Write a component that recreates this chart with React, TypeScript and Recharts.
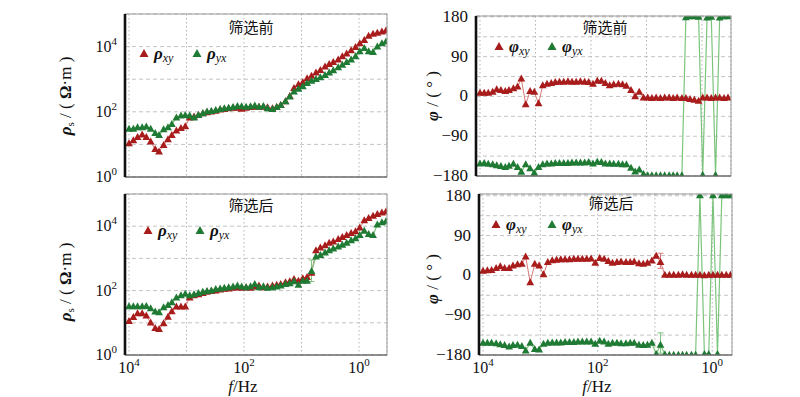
import React from 'react';
import { LineChart, Line, XAxis, YAxis, CartesianGrid, ErrorBar } from 'recharts';

// ---------- data ----------
const freqHz = [10000, 8400, 7100, 5900, 5000, 4200, 3500, 3000, 2500, 2100, 1800, 1500, 1250, 1050, 880, 740, 620, 520, 440, 370, 310, 260, 220, 185, 155, 130, 110, 92, 77, 65, 55, 46, 39, 32, 27, 23, 19, 16, 13.5, 11.3, 9.5, 8, 6.7, 5.6, 4.7, 3.9, 3.3, 2.8, 2.3, 1.95, 1.64, 1.37, 1.15, 0.97, 0.81, 0.68, 0.57, 0.48, 0.4, 0.34];

const rhoXyBefore = [10.7, 13.2, 16.6, 20, 16.6, 12, 7.1, 6.0, 9.5, 14.1, 19, 26.3, 31.6, 35.5, 66, 71, 79, 89, 95, 100, 107, 115, 120, 126, 132, 132, 123, 132, 138, 141, 141, 141, 135, 126, 138, 158, 209, 302, 525, 692, 794, 1047, 1259, 1585, 1905, 2399, 2884, 3311, 3981, 5012, 6026, 7586, 9550, 12590, 15850, 21380, 24550, 26300, 28840, 30900];
const rhoYxBefore = [30, 30, 33, 33, 35, 30, 22, 19, 29, 33, 42, 66, 76, 79, 76, 66, 79, 89, 100, 105, 112, 120, 126, 132, 138, 148, 145, 141, 145, 155, 141, 148, 126, 120, 138, 158, 209, 288, 417, 501, 603, 759, 891, 1000, 1122, 1318, 1585, 1862, 2291, 2754, 3311, 3981, 5012, 7079, 8913, 7079, 6761, 10000, 12590, 14130];
const rhoXyAfter = [11.2, 14.8, 19.5, 19.5, 16.6, 10, 6.8, 6.3, 9.5, 15.1, 22.4, 31.6, 31.6, 31.6, 60, 71, 76, 83, 91, 95, 100, 107, 112, 115, 120, 126, 120, 126, 120, 132, 141, 126, 132, 141, 151, 158, 178, 191, 224, 200, 240, 263, 355, 1778, 2138, 2512, 3020, 3311, 3981, 4571, 5248, 6026, 6918, 8913, 15140, 17780, 20890, 23440, 26300, 28180];
const rhoYxAfter = [32, 32, 32, 32, 33, 28, 22, 21, 30, 35, 43, 60, 71, 79, 71, 76, 83, 91, 95, 100, 110, 115, 120, 126, 132, 141, 132, 126, 135, 158, 126, 135, 120, 126, 132, 141, 158, 166, 191, 151, 200, 200, 398, 1122, 1259, 1514, 1778, 1995, 2291, 2630, 3020, 3631, 4169, 5248, 7079, 5623, 5248, 11220, 13180, 14130];

const phiXyBefore = [8, 8, 8, 10, 16, 14, 12, 14, 18, 22, 40, -18, 12, 10, -16, 25, 28, 30, 32, 33, 33, 34, 33, 33, 34, 33, 32, 28, 35, 35, 30, 25, 27, 28, 27, 24, 14, 0, 10, -3, -3, -4, -3, -4, -3, -3, -4, -3, -4, -4, -6, -8, -10, -3, -3, -4, -3, -3, -4, -3];
const phiYxBefore = [-152, -151, -153, -154, -156, -158, -160, -157, -153, -160, -171, -154, -163, -173, -160, -154, -152, -152, -151, -151, -151, -151, -150, -150, -150, -150, -149, -152, -148, -149, -152, -152, -153, -153, -154, -154, -162, -170, -166, -176, -179, -179, -179, -179, -179, -179, -179, -179, -179, 179, 181, 181, 180, -178, 178, 180, -178, 178, 181, 181];
const phiXyAfter = [10, 11, 12, 16, 20, 16, 16, 22, 25, 26, 42, -16, 26, 22, 2, 30, 34, 35, 36, 36, 36, 37, 37, 37, 37, 38, 28, 39, 37, 32, 28, 30, 31, 30, 30, 31, 27, 26, 28, 33, 44, 30, 1, 1, 1, 1, 2, 1, 1, 1, 1, 0, 1, 1, 1, 1, 1, 1, 1, 1];
const phiYxAfter = [-153, -153, -153, -154, -156, -158, -161, -158, -157, -160, -170, -153, -167, -168, -155, -153, -152, -152, -152, -151, -151, -151, -150, -150, -150, -150, -155, -148, -150, -155, -153, -153, -154, -154, -153, -153, -157, -158, -157, -153, -178, -157, -179, -180, -180, -180, -180, -180, -180, -180, 181, -178, -178, 181, -178, 181, 181, 181, 181, 181];

// error bars (sample index, [lower, upper])
const errIndexRho = [42];
const rhoYxAfterErr = [[207, 493]];
const errIndexPhi = [41];
const phiXyAfterErr = [[14, 20]];
const phiYxAfterErr = [[19, 27]];

const rhoTicks = [1, 10, 100, 1000, 10000];
const phiTicks = [-180, -135, -90, -45, 0, 45, 90, 135, 180];
const freqTicks = [10000, 1000, 100, 10, 1];

// ---------- styling ----------
const SERIF = '"Liberation Serif", "DejaVu Serif", serif';
const CJK = '"Noto Sans CJK SC", "Noto Sans", sans-serif';
const RED = '#a81c1c';
const RED_LINE = '#d97a7a';
const GREEN = '#1f7a34';
const GREEN_LINE = '#7cc47c';

function buildRows(a: number[], b: number[], idx: number[], errA?: number[][], errB?: number[][]) {
  return freqHz.map((f, i) => {
    const k = idx.indexOf(i);
    return {
      f,
      a: a[i],
      b: b[i],
      ea: k >= 0 && errA ? errA[k] : undefined,
      eb: k >= 0 && errB ? errB[k] : undefined,
    };
  });
}

const makeTri = (fill: string) => (p: any) => {
  const { cx, cy, index } = p;
  if (cx == null || cy == null || isNaN(cx) || isNaN(cy)) return <g key={`t${index}`} />;
  return (
    <path
      key={`t${index}`}
      d={`M${cx},${cy - 4.2}L${cx + 3.9},${cy + 2.8}L${cx - 3.9},${cy + 2.8}Z`}
      fill={fill}
    />
  );
};

const makeXTick = (show: boolean) => (p: any) => {
  const { x, y, payload } = p;
  const e = Math.round(Math.log10(payload.value));
  if (!show || e % 2 !== 0) return <g />;
  return (
    <text x={x} y={y} dy={10} textAnchor="middle" fontFamily={SERIF} fontSize={16} fill="#111">
      <tspan>10</tspan>
      <tspan dy={-7} fontSize={11}>{e}</tspan>
    </text>
  );
};

const RhoYTick = (p: any) => {
  const { x, y, payload } = p;
  const e = Math.round(Math.log10(payload.value));
  if (e % 2 !== 0) return <g />;
  return (
    <text x={x} y={y} dy={5} textAnchor="end" fontFamily={SERIF} fontSize={16} fill="#111">
      <tspan>10</tspan>
      <tspan dy={-7} fontSize={11}>{e}</tspan>
    </text>
  );
};

const PhiYTick = (p: any) => {
  const { x, y, payload } = p;
  const v = payload.value;
  if (v % 90 !== 0) return <g />;
  const label = v < 0 ? '\u2212' + -v : String(v);
  return (
    <text x={x} y={y} dy={5} textAnchor="end" fontFamily={SERIF} fontSize={17} fill="#111">
      {label}
    </text>
  );
};

type PanelProps = {
  rows: any[];
  kind: 'rho' | 'phi';
  margin: { top: number; right: number; bottom: number; left: number };
  xDomain: [number, number];
  yDomain: [number, number];
  showX: boolean;
};

function Panel({ rows, kind, margin, xDomain, yDomain, showX }: PanelProps) {
  const isRho = kind === 'rho';
  return (
    <div style={{ position: 'absolute', left: 0, top: 0 }}>
      <LineChart width={800} height={397} data={rows} margin={margin}>
        <CartesianGrid horizontal={true} vertical={false} stroke="#c4c4c4" strokeDasharray="4 3" />
        <CartesianGrid horizontal={false} vertical={true} stroke="#b4b4b4" strokeDasharray="1.5 2.5" />
        <XAxis
          type="number"
          dataKey="f"
          scale="log"
          domain={xDomain}
          reversed
          allowDataOverflow
          ticks={freqTicks}
          tick={makeXTick(showX)}
          tickLine={false}
          axisLine={false}
          height={30}
          interval={0}
        />
        {isRho ? (
          <YAxis
            type="number"
            scale="log"
            domain={yDomain}
            allowDataOverflow
            ticks={rhoTicks}
            tick={RhoYTick}
            tickLine={false}
            axisLine={false}
            width={50}
            interval={0}
          />
        ) : (
          <YAxis
            type="number"
            domain={yDomain}
            allowDataOverflow
            ticks={phiTicks}
            tick={PhiYTick}
            tickLine={false}
            axisLine={false}
            width={50}
            interval={0}
          />
        )}
        <Line
          dataKey="a"
          stroke={RED_LINE}
          strokeWidth={1}
          dot={makeTri(RED)}
          isAnimationActive={false}
        >
          <ErrorBar dataKey="ea" width={3} stroke={RED_LINE} strokeWidth={1} direction="y" />
        </Line>
        <Line
          dataKey="b"
          stroke={GREEN_LINE}
          strokeWidth={1.2}
          dot={makeTri(GREEN)}
          isAnimationActive={false}
        >
          <ErrorBar dataKey="eb" width={3} stroke={GREEN_LINE} strokeWidth={1} direction="y" />
        </Line>
      </LineChart>
    </div>
  );
}

function Frame({ x0, y0, x1, y1 }: { x0: number; y0: number; x1: number; y1: number }) {
  return (
    <g>
      <rect x={x0} y={y0} width={x1 - x0} height={y1 - y0} fill="none" stroke="#9a9a9a" strokeWidth={1} />
      <line x1={x0} y1={y1} x2={x1} y2={y1} stroke="#555" strokeWidth={1.2} />
      <line x1={x0} y1={y0} x2={x0} y2={y1} stroke="#111" strokeWidth={2.6} />
    </g>
  );
}

function LegendItem({ x, y, color, sym, sub }: { x: number; y: number; color: string; sym: string; sub: string }) {
  return (
    <g>
      <path d={`M${x},${y - 5}L${x + 4.5},${y + 3}L${x - 4.5},${y + 3}Z`} fill={color} />
      <text x={x + 10} y={y + 5} fontFamily={SERIF} fontSize={17} fill="#111">
        <tspan fontWeight="bold" fontStyle="italic">{sym}</tspan>
        <tspan fontStyle="italic" fontSize={12} dy={3}>{sub}</tspan>
      </text>
    </g>
  );
}

function RhoLabel({ cx, cy }: { cx: number; cy: number }) {
  return (
    <text transform={`translate(${cx},${cy}) rotate(-90)`} textAnchor="middle" fontFamily={SERIF} fontSize={17} fill="#111">
      <tspan fontWeight="bold" fontStyle="italic">ρ</tspan>
      <tspan fontSize={11} dy={3}>s</tspan>
      <tspan dy={-3}> / ( </tspan>
      <tspan fontWeight="bold">Ω</tspan>
      <tspan>·m )</tspan>
    </text>
  );
}

function PhiLabel({ cx, cy }: { cx: number; cy: number }) {
  return (
    <text transform={`translate(${cx},${cy}) rotate(-90)`} textAnchor="middle" fontFamily={SERIF} fontSize={17} fill="#111">
      <tspan fontWeight="bold" fontStyle="italic">φ</tspan>
      <tspan> / ( ° )</tspan>
    </text>
  );
}

function FLabel({ cx, y }: { cx: number; y: number }) {
  return (
    <text x={cx} y={y} textAnchor="middle" fontFamily={SERIF} fontSize={17} fill="#111">
      <tspan fontStyle="italic">f</tspan>
      <tspan>/Hz</tspan>
    </text>
  );
}

export default function App() {
  const rowsRhoBefore = buildRows(rhoXyBefore, rhoYxBefore, []);
  const rowsRhoAfter = buildRows(rhoXyAfter, rhoYxAfter, errIndexRho, undefined, rhoYxAfterErr);
  const rowsPhiBefore = buildRows(phiXyBefore, phiYxBefore, []);
  const rowsPhiAfter = buildRows(phiXyAfter, phiYxAfter, errIndexPhi, phiXyAfterErr, phiYxAfterErr);

  return (
    <div style={{ position: 'absolute', left: 0, top: 0, width: 800, height: 397, background: '#fff', overflow: 'hidden' }}>
      <Panel
        rows={rowsRhoBefore}
        kind="rho"
        margin={{ top: 14, right: 413, bottom: 190, left: 75 }}
        xDomain={[0.326, 11740]}
        yDomain={[1, 100000]}
        showX={false}
      />
      <Panel
        rows={rowsRhoAfter}
        kind="rho"
        margin={{ top: 194, right: 413, bottom: 12, left: 75 }}
        xDomain={[0.326, 11740]}
        yDomain={[1, 100000]}
        showX={true}
      />
      <Panel
        rows={rowsPhiBefore}
        kind="phi"
        margin={{ top: 16, right: 69, bottom: 191, left: 426 }}
        xDomain={[0.3, 11800]}
        yDomain={[-180, 182]}
        showX={false}
      />
      <Panel
        rows={rowsPhiAfter}
        kind="phi"
        margin={{ top: 194, right: 68, bottom: 12, left: 429 }}
        xDomain={[0.452, 11750]}
        yDomain={[-180, 184]}
        showX={true}
      />
      <svg width={800} height={397} style={{ position: 'absolute', left: 0, top: 0, pointerEvents: 'none' }}>
        <Frame x0={125} y0={14} x1={387} y1={177} />
        <Frame x0={125} y0={194} x1={387} y1={355} />
        <Frame x0={476} y0={16} x1={731} y1={176} />
        <Frame x0={479} y0={194} x1={732} y1={355} />

        <text x={251} y={33} textAnchor="middle" fontFamily={CJK} fontSize={15} fill="#111">筛选前</text>
        <text x={605} y={33} textAnchor="middle" fontFamily={CJK} fontSize={15} fill="#111">筛选前</text>
        <text x={251} y={211} textAnchor="middle" fontFamily={CJK} fontSize={15} fill="#111">筛选后</text>
        <text x={611} y={209} textAnchor="middle" fontFamily={CJK} fontSize={15} fill="#111">筛选后</text>

        <LegendItem x={144} y={54} color={RED} sym="ρ" sub="xy" />
        <LegendItem x={197} y={54} color={GREEN} sym="ρ" sub="yx" />
        <LegendItem x={148} y={231} color={RED} sym="ρ" sub="xy" />
        <LegendItem x={200} y={231} color={GREEN} sym="ρ" sub="yx" />
        <LegendItem x={499} y={47} color={RED} sym="φ" sub="xy" />
        <LegendItem x={552} y={47} color={GREEN} sym="φ" sub="yx" />
        <LegendItem x={496} y={225} color={RED} sym="φ" sub="xy" />
        <LegendItem x={552} y={225} color={GREEN} sym="φ" sub="yx" />

        <RhoLabel cx={71} cy={96} />
        <RhoLabel cx={71} cy={282} />
        <PhiLabel cx={438} cy={96} />
        <PhiLabel cx={438} cy={279} />

        <FLabel cx={243} y={392} />
        <FLabel cx={597} y={392} />
      </svg>
    </div>
  );
}
